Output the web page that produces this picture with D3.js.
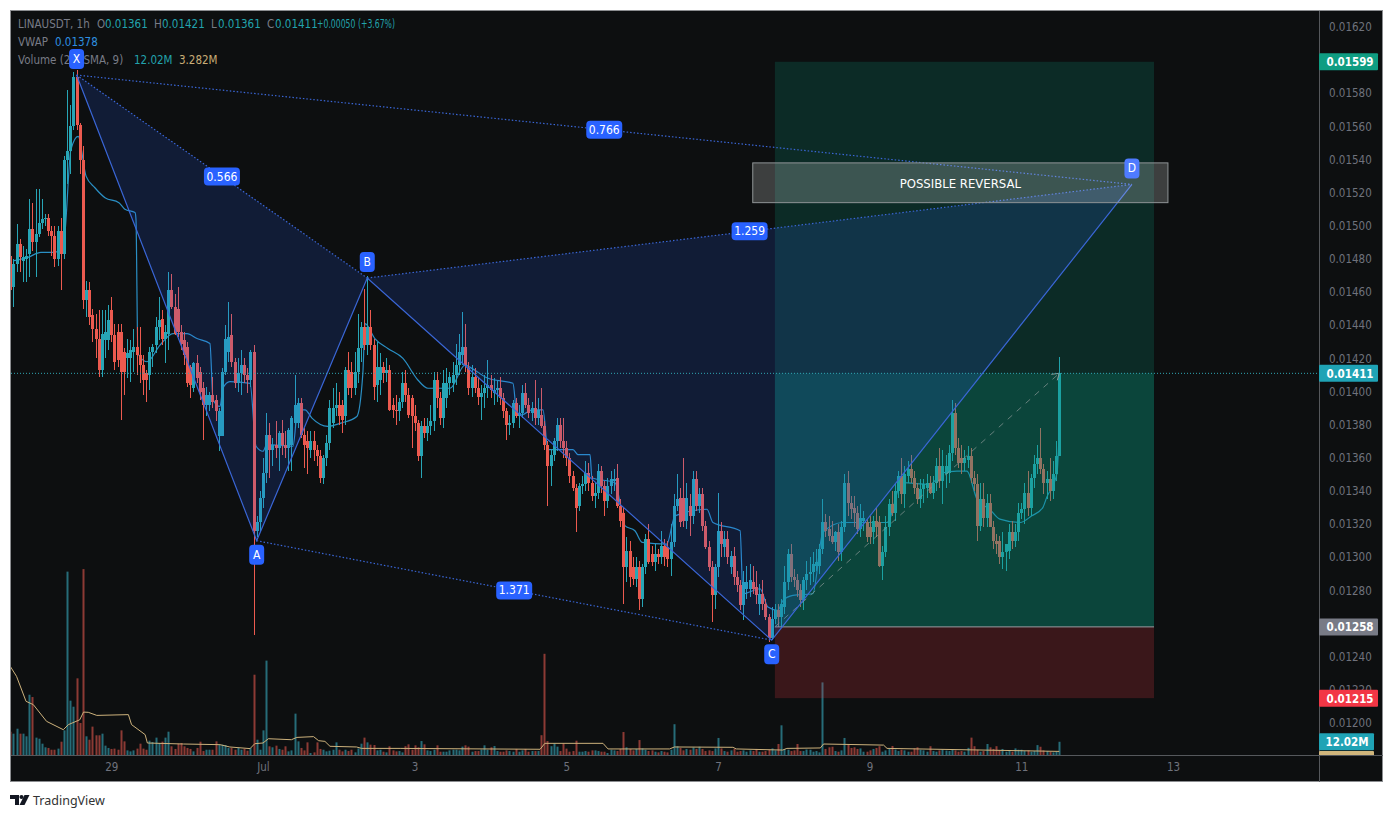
<!DOCTYPE html>
<html>
<head>
<meta charset="utf-8">
<script src="https://cdn.jsdelivr.net/npm/d3@7"></script>
<style>
  html, body { margin: 0; background: #fff; }
  svg { display: block; }
  text { font-family: "DejaVu Sans Condensed", "DejaVu Sans", sans-serif; font-stretch: condensed; }
  .brand { font-family: "Noto Sans", sans-serif; font-stretch: normal; }
</style>
</head>
<body>
<div id="chart"></div>
<script>
// prices are in 0.00001 USDT steps, one candle per hour, first one is 27 Jun 16:00
const opens = [
  1482,1463,1477,1489,1479,1480,1483,1498,1490,1495,
  1502,1504,1505,1497,1494,1480,1497,1483,1540,1545,
  1560,1590,1561,1540,1455,1461,1446,1438,1432,1413,
  1431,1431,1449,1434,1436,1436,1424,1420,1420,1424,
  1427,1422,1416,1411,1410,1424,1428,1439,1444,1432,
  1435,1461,1451,1450,1436,1431,1427,1415,1402,1417,
  1412,1402,1392,1392,1398,1395,1373,1373,1412,1424,
  1434,1418,1405,1411,1416,1410,1407,1424,1316,1321,
  1336,1351,1374,1365,1368,1366,1375,1368,1366,1368,
  1381,1381,1393,1374,1370,1365,1370,1365,1361,1348,
  1360,1369,1381,1390,1392,1392,1385,1413,1412,1402,
  1412,1426,1439,1428,1439,1428,1404,1407,1415,1411,
  1413,1392,1389,1388,1394,1405,1398,1396,1385,1381,
  1361,1379,1375,1379,1382,1407,1396,1384,1396,1405,
  1405,1410,1416,1422,1427,1414,1402,1409,1402,1397,
  1399,1402,1404,1399,1401,1402,1396,1388,1380,1381,
  1393,1385,1387,1399,1392,1387,1390,1384,1386,1379,
  1368,1355,1362,1370,1380,1370,1366,1360,1349,1342,
  1331,1343,1344,1351,1345,1337,1339,1352,1343,1334,
  1343,1346,1348,1331,1327,1294,1304,1294,1287,1294,
  1275,1294,1311,1302,1297,1302,1300,1307,1306,1299,
  1309,1331,1336,1336,1322,1331,1325,1347,1331,1338,
  1319,1306,1294,1277,1294,1316,1306,1311,1294,1301,
  1288,1283,1271,1281,1281,1285,1282,1272,1278,1272,
  1264,1251,1263,1268,1264,1270,1285,1302,1288,1286,
  1280,1274,1286,1290,1291,1295,1295,1305,1321,1317,
  1313,1309,1315,1303,1318,1345,1333,1330,1327,1317,
  1322,1321,1318,1315,1322,1321,1295,1303,1318,1332,
  1327,1340,1349,1338,1349,1353,1348,1342,1335,1341,
  1342,1345,1339,1345,1355,1346,1350,1351,1363,1387,
  1366,1360,1357,1359,1361,1348,1344,1319,1335,1324,
  1333,1318,1310,1310,1300,1303,1304,1315,1310,1315,
  1327,1329,1339,1330,1348,1356,1360,1353,1345,1347,1340,1350,1361
];
const highs = [
  1497,1480,1501,1492,1488,1486,1516,1514,1522,1522,
  1516,1507,1507,1500,1500,1500,1505,1542,1582,1573,
  1593,1594,1562,1548,1467,1466,1450,1447,1449,1449,
  1449,1452,1457,1441,1441,1441,1426,1432,1431,1438,
  1439,1439,1422,1413,1427,1429,1445,1457,1449,1440,
  1472,1471,1459,1463,1440,1436,1430,1416,1418,1422,
  1415,1406,1403,1400,1409,1398,1390,1414,1440,1454,
  1447,1420,1420,1425,1420,1414,1425,1428,1325,1340,
  1360,1387,1381,1372,1382,1376,1383,1376,1378,1385,
  1410,1396,1396,1378,1376,1376,1376,1368,1365,1362,
  1374,1395,1402,1405,1400,1395,1415,1424,1418,1424,
  1447,1442,1462,1470,1449,1432,1430,1423,1418,1420,
  1416,1396,1398,1396,1412,1413,1402,1398,1392,1383,
  1382,1384,1384,1392,1412,1412,1400,1413,1414,1412,
  1418,1429,1435,1448,1441,1418,1416,1414,1408,1404,
  1410,1419,1410,1408,1407,1409,1399,1390,1386,1395,
  1396,1392,1404,1405,1396,1394,1407,1396,1402,1382,
  1370,1365,1372,1384,1384,1384,1370,1363,1352,1344,
  1345,1349,1358,1357,1349,1345,1356,1355,1346,1348,
  1352,1353,1356,1335,1330,1312,1310,1300,1300,1298,
  1296,1314,1320,1307,1308,1305,1316,1311,1310,1320,
  1338,1350,1342,1360,1345,1338,1352,1352,1342,1342,
  1322,1310,1298,1296,1339,1321,1316,1316,1304,1306,
  1292,1286,1292,1295,1296,1295,1292,1284,1286,1275,
  1266,1270,1272,1272,1275,1295,1305,1308,1293,1290,
  1284,1288,1298,1300,1303,1305,1308,1335,1326,1325,
  1322,1316,1320,1322,1350,1352,1337,1337,1331,1332,
  1328,1323,1325,1325,1330,1325,1307,1325,1335,1340,
  1345,1352,1360,1355,1358,1362,1352,1345,1347,1347,
  1350,1349,1349,1360,1366,1365,1362,1368,1395,1393,
  1372,1368,1365,1367,1366,1352,1350,1345,1345,1338,
  1338,1322,1314,1313,1315,1308,1320,1322,1320,1333,
  1333,1345,1352,1350,1362,1368,1378,1356,1352,1360,1358,1370,1421
];
const lows = [
  1461,1451,1472,1472,1466,1466,1469,1485,1469,1493,
  1498,1500,1494,1482,1475,1476,1461,1480,1525,1531,
  1558,1558,1531,1450,1445,1440,1430,1420,1409,1409,
  1420,1425,1430,1413,1415,1383,1398,1408,1406,1412,
  1410,1405,1398,1394,1401,1415,1423,1431,1428,1417,
  1425,1450,1434,1433,1425,1416,1403,1396,1400,1405,
  1395,1371,1385,1388,1390,1382,1364,1373,1410,1418,
  1415,1402,1400,1398,1405,1399,1403,1253,1312,1315,
  1330,1345,1348,1355,1360,1352,1362,1360,1352,1352,
  1378,1378,1372,1354,1350,1360,1358,1355,1345,1344,
  1355,1365,1378,1385,1380,1375,1380,1398,1396,1398,
  1405,1418,1425,1422,1425,1395,1394,1398,1405,1406,
  1388,1384,1380,1382,1390,1394,1384,1366,1376,1358,
  1348,1372,1370,1374,1376,1390,1380,1378,1390,1398,
  1400,1404,1410,1416,1412,1398,1397,1399,1392,1383,
  1390,1396,1396,1392,1394,1392,1384,1371,1374,1378,
  1384,1378,1384,1390,1384,1382,1380,1380,1378,1365,
  1331,1343,1358,1364,1366,1360,1355,1345,1340,1315,
  1328,1338,1340,1340,1334,1330,1335,1339,1325,1330,
  1338,1340,1330,1318,1272,1285,1282,1283,1282,1268,
  1270,1290,1296,1295,1292,1296,1296,1295,1294,1289,
  1306,1328,1318,1318,1317,1313,1320,1328,1327,1316,
  1305,1292,1261,1269,1288,1300,1300,1296,1290,1283,
  1279,1268,1262,1275,1276,1278,1272,1265,1268,1262,
  1249,1250,1260,1258,1258,1266,1280,1285,1282,1276,
  1270,1268,1280,1283,1285,1292,1290,1302,1312,1310,
  1308,1304,1298,1298,1315,1325,1323,1318,1314,1312,
  1316,1309,1308,1308,1312,1294,1286,1300,1313,1325,
  1322,1336,1332,1330,1345,1345,1338,1332,1330,1333,
  1336,1338,1335,1340,1342,1332,1342,1345,1358,1362,
  1354,1350,1352,1354,1345,1340,1310,1316,1318,1318,
  1318,1305,1302,1296,1293,1292,1299,1305,1306,1310,
  1323,1320,1325,1325,1342,1350,1350,1338,1335,1334,1335,1346,1361
];
const closes = [
  1461,1477,1489,1481,1481,1482,1498,1490,1495,1502,
  1504,1505,1497,1494,1480,1497,1483,1540,1545,1560,
  1590,1561,1540,1455,1461,1445,1438,1432,1413,1435,
  1436,1443,1434,1418,1419,1412,1412,1423,1425,1427,
  1422,1416,1407,1407,1424,1427,1439,1443,1432,1436,
  1461,1451,1435,1436,1429,1422,1405,1404,1417,1408,
  1400,1392,1398,1398,1394,1388,1388,1412,1432,1433,
  1418,1405,1411,1416,1410,1407,1424,1316,1321,1336,
  1351,1374,1365,1368,1366,1375,1368,1366,1377,1384,
  1392,1393,1374,1368,1366,1370,1365,1361,1348,1360,
  1369,1390,1390,1392,1385,1383,1413,1402,1402,1412,
  1426,1439,1428,1439,1428,1403,1415,1415,1411,1413,
  1389,1389,1388,1394,1405,1398,1386,1385,1381,1361,
  1379,1375,1379,1382,1407,1396,1384,1405,1405,1409,
  1410,1416,1424,1427,1416,1402,1409,1402,1397,1399,
  1402,1404,1401,1401,1402,1396,1388,1380,1381,1393,
  1385,1387,1399,1392,1387,1390,1384,1389,1379,1368,
  1355,1362,1370,1380,1370,1366,1360,1349,1342,1330,
  1343,1344,1351,1345,1337,1339,1352,1343,1334,1343,
  1347,1347,1331,1322,1294,1304,1288,1287,1294,1275,
  1294,1311,1297,1297,1302,1300,1307,1300,1299,1309,
  1331,1335,1321,1322,1336,1325,1347,1331,1338,1319,
  1306,1294,1277,1294,1316,1308,1311,1300,1301,1288,
  1283,1271,1285,1285,1286,1281,1277,1278,1272,1264,
  1251,1263,1268,1264,1272,1285,1302,1288,1286,1280,
  1274,1286,1290,1291,1296,1297,1305,1321,1316,1313,
  1309,1315,1303,1318,1345,1333,1329,1327,1317,1324,
  1324,1312,1312,1322,1318,1295,1303,1318,1332,1327,
  1340,1349,1338,1350,1353,1348,1342,1335,1341,1344,
  1345,1339,1345,1355,1346,1355,1355,1363,1387,1366,
  1357,1357,1360,1361,1348,1344,1319,1335,1324,1333,
  1318,1310,1308,1300,1303,1308,1315,1310,1315,1327,
  1329,1339,1330,1348,1356,1360,1353,1345,1347,1340,1350,1361,1411
];
// volume in millions
const volumes = [
  21.2,19.4,23.9,19.4,19.4,17,54.8,52.7,15.8,14.8,
  10.3,7,6.4,4.8,4.8,5.8,12.1,22.4,166.7,49.4,
  43.9,69.7,29.1,169,17,13.9,25.8,17.9,17.9,19.4,
  8.5,6.4,5.5,5.8,4.8,22.4,12.4,4.2,3.3,4.2,
  5.8,10.3,5.8,4.8,13,11.8,15.8,10.9,12.1,15.8,
  21.2,7.9,5.5,10.3,10.9,7.9,6.4,5.5,3.3,6.4,
  12.1,3.6,4.8,4.8,4.8,12.4,9.1,9.4,9.1,6.4,
  6.4,4.8,6.4,4.8,5.5,3.9,6.4,73,13.9,4.8,
  22.4,85.8,7.9,7,8.5,5.5,4.8,7.9,3.3,4.2,
  37.6,12.4,6.4,4.2,11.5,1.8,2.4,11.5,5.5,4.8,
  3.3,3.9,4.8,11.5,4.8,3.3,4.8,3.6,4.8,2.4,
  6,10.3,15.8,11.5,9.4,9.1,4.2,4.8,3,2.4,
  7.9,4.2,3.3,3.6,2.4,8,9.7,4.8,8.8,7,
  12.7,9.7,4.2,3.6,4.8,8.8,3,3,3,4.2,
  4.8,4.8,4.2,7.6,8.8,7.6,3,3.6,3.6,5,
  8.8,4.8,7,8.2,3.6,3,3,4.2,3.6,3,
  5.5,3,4.2,5.5,3,3.6,3.6,3.6,18,92,
  12.7,8,10.6,7.6,3.6,10.6,5.8,3,3.6,13,
  3,3,3.6,3,4.2,4.2,3.6,3,3,1.8,
  4.8,4.2,3.6,5.5,20.9,7,5.5,4.2,5.5,13.6,
  6,4.8,3.6,4.2,3,2.4,3.6,3,2.4,4.8,
  28,8,6.4,4.2,5.5,4.8,6.9,5.5,7.5,5.5,
  3.6,4.2,3.6,6,15.5,6,3.6,3,4.2,5.5,
  3,3.6,4.2,3,4.2,3.6,5.5,3,3,3.6,
  4.8,6,4.2,10,27,5.5,4.8,3.6,4.2,10,
  3.6,3.6,5,4.8,3,3.6,2.4,66,5.5,7,
  7.5,3.6,3,4.2,15.5,10,6.4,7,5.5,6,
  3,3,4.2,5.5,6.4,8,3,4.2,5.5,8.2,
  5,3.6,4.8,4.2,3,3,6,7,4.8,4.2,
  3,8,3.6,3,4.2,5,4,3.6,4.8,4.2,
  3,3.6,3,6.5,15.8,8,4.8,3,3.6,10,
  7,5.5,8,4.2,5.5,3,3.6,3,6,4.8,
  4.8,3.6,4.2,3,3.6,9,7.5,4.2,3.6,3,2.4,3,12.02
];

const vwapHours = [1.2,5.6,9.7,14.2,17,19.2,21.5,24,26.8,30,34.4,36.3,39.5,39.8,40.4,43.3,47.4,51.5,56,59.1,63.2,64.2,66.4,67.3,69.5,75.9,77.8,80,81.2,89.5,91,93.3,95.5,100.5,104.7,109.7,111.6,112.3,115.4,119.5,124.3,129,132.2,139.2,143.9,146.1,151.2,159.1,160.4,162,165.1,168.6,170.2,178.1,179.7,183.5,184.1,191.4,194.6,197.7,200,207.8,210.4,220.5,222.4,231,231.9,237.3,239.8,242.9,244.6,247.7,254,257.2,263.5,269.9,277.5,282.2,291,295.2,299.6,302.8,306,310,313.2,319.6,323.3,326.8,328,331.3,332];
const vwapPrices = [1479,1481,1484,1484,1491,1546,1554,1530,1523,1517,1514,1510,1508,1504,1423,1418,1428,1435,1435,1432,1429,1395,1391,1402,1406,1405,1367,1364,1368,1367,1389,1389,1384,1379,1381,1385,1411,1441,1432,1426,1420,1407,1402,1402,1416,1414,1408,1405,1386,1386,1389,1389,1365,1365,1362,1362,1348,1345,1319,1316,1309,1308,1325,1329,1321,1316,1278,1281,1270,1268,1274,1277,1278,1315,1321,1321,1321,1345,1344,1351,1352,1352,1335,1329,1323,1321,1325,1330,1336,1351,1378];

// 9 period SMA of the volume, same idea
const smaHours = [0,2,5,7.3,11.5,16.8,18.4,22,23.2,24.7,27.4,37.4,38.4,42.7,43.4,54.8,66.4,69.5,75.9,77.4,80,81.7,89,90.7,96,97.6,99.6,101.2,109.6,111.2,123.4,167.7,169.2,187.6,189.2,208.7,210.2,228.7,229.8,244.5,245.8,256.4,257.4,276.4,277.5,332];
const smaValues = [80.6,71.5,48.8,45.8,30.6,23,27.6,32,39,38.8,36,36.7,27.6,18.5,10.9,10,9.4,7.3,5.8,10.3,10.9,14.8,13.9,16,16.7,13,12.4,7.9,7.3,6,6,5.2,10.6,10.6,5.5,5.5,7.3,7,5.5,4.5,6,6.4,10,9,6,3.28];

// XABCD pattern
const patternNames = ['X', 'A', 'B', 'C', 'D'];
const patternHours = [21, 78, 113, 241, 355];
const patternPrices = [1591, 1310, 1468.5, 1250, 1525];
const ratioLinks = [['X', 'B'], ['A', 'C'], ['B', 'D'], ['X', 'D']];
const ratioLabels = ['0.566', '1.371', '1.259', '0.766'];

// long position tool
const positionHours = [242, 362];
const targetPrice = 1599, entryPrice = 1258, stopPrice = 1215, lastPrice = 1411;
const reversalHours = [235, 366.4];
const reversalPrices = [1538, 1514];

const priceTicks = [1200,1220,1240,1280,1300,1320,1340,1360,1380,1400,1420,1440,1460,1480,1500,1520,1540,1560,1580,1620];
const dateTicks = [new Date(Date.UTC(2022,5,29)), new Date(Date.UTC(2022,6,1)), new Date(Date.UTC(2022,6,3)), new Date(Date.UTC(2022,6,5)), new Date(Date.UTC(2022,6,7)), new Date(Date.UTC(2022,6,9)), new Date(Date.UTC(2022,6,11)), new Date(Date.UTC(2022,6,13))];
const dateLabels = ['29', 'Jul', '3', '5', '7', '9', '11', '13'];

const upColor = '#27a5b6', downColor = '#ec5a4f';
const upVolume = '#266c78', downVolume = '#8c3a34';
const bg = '#0d0f10', axisText = '#6f727c', blue = '#2962ff', patternLine = '#3a66d6';

const width = 1393, height = 818;
const paneLeft = 11, paneRight = 1319, paneTop = 11, paneBottom = 755, frameRight = 1383, frameBottom = 782;

const startTime = Date.UTC(2022, 5, 27, 16);
const hourDate = h => new Date(startTime + h * 3600000);

const x = d3.scaleUtc()
    .domain([dateTicks[1], dateTicks[7]])
    .range([263, 1173]);
const xh = h => x(hourDate(h));
const y = d3.scaleLinear()
    .domain([1200, 1620])
    .range([723, 27]);
const yVol = d3.scaleLinear()
    .domain([0, 170])
    .range([paneBottom, paneBottom - 187]);

const svg = d3.select('#chart')
    .append('svg')
    .attr('width', width)
    .attr('height', height);

svg.append('defs').append('clipPath')
    .attr('id', 'pane')
    .append('rect')
    .attr('x', paneLeft)
    .attr('y', paneTop)
    .attr('width', paneRight - paneLeft)
    .attr('height', paneBottom - paneTop);
svg.select('defs').append('clipPath')
    .attr('id', 'scale')
    .append('rect')
    .attr('x', paneRight)
    .attr('y', paneTop)
    .attr('width', frameRight - paneRight)
    .attr('height', paneBottom - paneTop);

// frame
svg.append('rect')
    .attr('x', 10.5)
    .attr('y', 10.5)
    .attr('width', frameRight - 11)
    .attr('height', frameBottom - 11)
    .attr('fill', bg)
    .attr('stroke', '#8b8d90');

// legend, top left. Parts are placed one by one, the X label covers a bit of it
const grey = '#787b86', teal = '#22a3ad';
const legend = svg.append('g').attr('font-size', 11.5);
const legendPart = (tx, ty, str, color) => legend.append('text')
    .attr('x', tx)
    .attr('y', ty)
    .attr('fill', color)
    .text(str);
legendPart(18, 28, 'LINAUSDT, 1h', grey);
legendPart(97, 28, 'O', grey);
legendPart(105, 28, '0.01361', teal);
legendPart(154, 28, 'H', grey);
legendPart(162, 28, '0.01421', teal);
legendPart(211, 28, 'L', grey);
legendPart(218, 28, '0.01361', teal);
legendPart(267, 28, 'C', grey);
legendPart(275, 28, '0.01411', teal);
legendPart(317, 28, '+0.00050 (+3.67%)', teal)
    .attr('textLength', 78)
    .attr('lengthAdjust', 'spacingAndGlyphs');
legendPart(18, 46, 'VWAP', grey);
legendPart(55, 46, '0.01378', '#2d8fe0');
legendPart(18, 63.5, 'Volume (20, SMA, 9)', grey);
legendPart(134, 63.5, '12.02M', teal);
legendPart(179, 63.5, '3.282M', '#c9ad76');

const pane = svg.append('g').attr('clip-path', 'url(#pane)');
const hours = d3.range(closes.length);

// volume
pane.append('g')
    .selectAll('rect')
    .data(hours)
    .enter()
    .append('rect')
    .attr('x', i => Math.round(xh(i)) - 0.5)
    .attr('width', 2)
    .attr('y', i => yVol(volumes[i]))
    .attr('height', i => yVol(0) - yVol(volumes[i]))
    .attr('fill', i => closes[i] >= opens[i] ? upVolume : downVolume);

pane.append('path')
    .attr('d', d3.line().x(d => xh(d[0])).y(d => yVol(d[1]))(d3.zip(smaHours, smaValues)))
    .attr('fill', 'none')
    .attr('stroke', '#cdb27c')
    .attr('stroke-width', 1);

// vwap
pane.append('path')
    .attr('d', d3.line().x(d => xh(d[0])).y(d => y(d[1])).curve(d3.curveMonotoneX)(d3.zip(vwapHours, vwapPrices)))
    .attr('fill', 'none')
    .attr('stroke', '#2a8fc4')
    .attr('stroke-width', 1.2);

// candles, wick and body on whole pixels so they stay crisp
const candle = pane.append('g')
    .selectAll('g')
    .data(hours)
    .enter()
    .append('g')
    .attr('fill', i => closes[i] >= opens[i] ? upColor : downColor)
    .attr('shape-rendering', 'crispEdges');
candle.append('rect')
    .attr('x', i => Math.round(xh(i)))
    .attr('width', 1)
    .attr('y', i => y(highs[i]))
    .attr('height', i => y(lows[i]) - y(highs[i]));
candle.append('rect')
    .attr('x', i => Math.round(xh(i)) - 1)
    .attr('width', 3)
    .attr('y', i => y(Math.max(opens[i], closes[i])))
    .attr('height', i => Math.max(1, Math.abs(y(opens[i]) - y(closes[i]))));

// last price line
svg.append('line')
    .attr('x1', paneLeft)
    .attr('x2', paneRight)
    .attr('y1', y(lastPrice))
    .attr('y2', y(lastPrice))
    .attr('stroke', '#2fa6b4')
    .attr('stroke-dasharray', '1 2');

// position tool
const posX = xh(positionHours[0]), posW = xh(positionHours[1]) - posX;
const posRect = (top, bottom, color, alpha) => pane.append('rect')
    .attr('x', posX)
    .attr('width', posW)
    .attr('y', y(top))
    .attr('height', y(bottom) - y(top))
    .attr('fill', color)
    .attr('fill-opacity', alpha);
posRect(targetPrice, entryPrice, '#089981', 0.2);
posRect(lastPrice, entryPrice, '#089981', 0.24);
posRect(entryPrice, stopPrice, '#f23645', 0.2);
pane.append('line')
    .attr('x1', posX)
    .attr('x2', posX + posW)
    .attr('y1', y(entryPrice))
    .attr('y2', y(entryPrice))
    .attr('stroke', '#9a9ea3');
pane.append('line')
    .attr('x1', posX)
    .attr('x2', xh(332))
    .attr('y1', y(entryPrice))
    .attr('y2', y(lastPrice))
    .attr('stroke', '#8d9a98')
    .attr('stroke-opacity', 0.7)
    .attr('stroke-dasharray', '6 6');
pane.append('path')
    .attr('d', `M${xh(332) - 8},${y(lastPrice) + 1}L${xh(332)},${y(lastPrice)}L${xh(332) - 2},${y(lastPrice) + 7}`)
    .attr('fill', 'none')
    .attr('stroke', '#8d9a98');

// XABCD pattern
const pts = {};
patternNames.forEach((n, i) => { pts[n] = [xh(patternHours[i]), y(patternPrices[i])]; });

const tri = [['X', 'A', 'B'], ['B', 'C', 'D']];
pane.selectAll('.tri')
    .data(tri)
    .enter()
    .append('path')
    .attr('class', 'tri')
    .attr('d', d => 'M' + d.map(n => pts[n].join(',')).join('L') + 'Z')
    .attr('fill', blue)
    .attr('fill-opacity', 0.16);

pane.append('path')
    .attr('d', d3.line()(patternNames.map(n => pts[n])))
    .attr('fill', 'none')
    .attr('stroke', patternLine)
    .attr('stroke-width', 1.2);

pane.selectAll('.link')
    .data(ratioLinks)
    .enter()
    .append('line')
    .attr('class', 'link')
    .attr('x1', d => pts[d[0]][0])
    .attr('y1', d => pts[d[0]][1])
    .attr('x2', d => pts[d[1]][0])
    .attr('y2', d => pts[d[1]][1])
    .attr('stroke', patternLine)
    .attr('stroke-width', 1.2)
    .attr('stroke-dasharray', '1.5 2');

// possible reversal box
const revX = xh(reversalHours[0]), revW = xh(reversalHours[1]) - revX;
pane.append('rect')
    .attr('x', revX)
    .attr('y', y(reversalPrices[0]))
    .attr('width', revW)
    .attr('height', y(reversalPrices[1]) - y(reversalPrices[0]))
    .attr('fill', '#ffffff')
    .attr('fill-opacity', 0.2)
    .attr('stroke', '#8f9496')
    .attr('stroke-width', 1);
pane.append('text')
    .attr('x', revX + revW / 2)
    .attr('y', (y(reversalPrices[0]) + y(reversalPrices[1])) / 2 + 5)
    .attr('text-anchor', 'middle')
    .attr('fill', '#fff')
    .attr('font-size', 13)
    .text('POSSIBLE REVERSAL');

// ratio labels
const ratio = pane.selectAll('.ratio')
    .data(ratioLinks)
    .enter()
    .append('g')
    .attr('class', 'ratio')
    .attr('transform', d => `translate(${(pts[d[0]][0] + pts[d[1]][0]) / 2},${(pts[d[0]][1] + pts[d[1]][1]) / 2})`);
ratio.append('rect')
    .attr('x', -18)
    .attr('y', -9)
    .attr('width', 36)
    .attr('height', 18)
    .attr('rx', 4)
    .attr('fill', blue);
ratio.append('text')
    .attr('text-anchor', 'middle')
    .attr('y', 4)
    .attr('fill', '#fff')
    .attr('font-size', 12)
    .text((d, i) => ratioLabels[i]);

// point labels, above or below the point
const pointLabel = pane.selectAll('.point')
    .data(patternNames)
    .enter()
    .append('g')
    .attr('class', 'point')
    .attr('transform', n => `translate(${pts[n][0]},${pts[n][1] + (n === 'A' || n === 'C' ? 14 : -16)})`);
pointLabel.append('rect')
    .attr('x', -7.5)
    .attr('y', -10)
    .attr('width', 15)
    .attr('height', 20)
    .attr('rx', 4)
    .attr('fill', n => n === 'D' ? '#4f7bff' : blue);
pointLabel.append('text')
    .attr('text-anchor', 'middle')
    .attr('y', 4)
    .attr('fill', '#fff')
    .attr('font-size', 12)
    .text(n => n);

// axes
const priceAxis = d3.axisRight(y)
    .tickValues(priceTicks)
    .tickSize(0)
    .tickPadding(10)
    .tickFormat(d => (d / 100000).toFixed(5));
const priceG = svg.append('g')
    .attr('transform', `translate(${paneRight},0)`)
    .call(priceAxis);
priceG.select('.domain').remove();
priceG.selectAll('text')
    .attr('fill', axisText)
    .attr('font-size', 11.5);

const timeAxis = d3.axisBottom(x)
    .tickValues(dateTicks)
    .tickSize(0)
    .tickPadding(8)
    .tickFormat((d, i) => dateLabels[i]);
const timeG = svg.append('g')
    .attr('transform', `translate(0,${paneBottom})`)
    .call(timeAxis);
timeG.select('.domain').remove();
timeG.selectAll('text')
    .attr('fill', axisText)
    .attr('font-size', 11.5);

svg.append('line')
    .attr('x1', paneLeft)
    .attr('x2', frameRight)
    .attr('y1', paneBottom + 0.5)
    .attr('y2', paneBottom + 0.5)
    .attr('stroke', '#55585c');
svg.append('line')
    .attr('x1', paneRight + 0.5)
    .attr('x2', paneRight + 0.5)
    .attr('y1', paneTop)
    .attr('y2', frameBottom)
    .attr('stroke', '#55585c');

// value tags on the scale
const tags = [
  { price: targetPrice, color: '#0f9d82' },
  { price: lastPrice, color: '#1fa3b5' },
  { price: entryPrice, color: '#787b86' },
  { price: stopPrice, color: '#f23645' }
];
const tagG = svg.append('g').attr('clip-path', 'url(#scale)');
const tag = tagG.selectAll('.price')
    .data(tags)
    .enter()
    .append('g')
    .attr('class', 'price')
    .attr('transform', d => `translate(${paneRight},${y(d.price)})`);
tag.append('rect')
    .attr('y', -8.5)
    .attr('width', 59)
    .attr('height', 17)
    .attr('rx', 1)
    .attr('fill', d => d.color);
tag.append('text')
    .attr('x', 31)
    .attr('y', 4.5)
    .attr('text-anchor', 'middle')
    .attr('fill', '#fff')
    .attr('font-size', 11.5)
    .attr('font-weight', 700)
    .text(d => (d.price / 100000).toFixed(5));

// the SMA tag comes first and gets pushed down under the volume tag, only its top edge shows
const volTags = [
  { value: smaValues[smaValues.length - 1], color: '#d0b67c', label: '3.282M', ink: '#131722', push: 8 },
  { value: volumes[volumes.length - 1], color: '#1fa3b5', label: '12.02M', ink: '#fff', push: 0 }
];
const volTag = tagG.selectAll('.vol')
    .data(volTags)
    .enter()
    .append('g')
    .attr('class', 'vol')
    .attr('transform', d => `translate(${paneRight},${yVol(d.value) + d.push})`);
volTag.append('rect')
    .attr('y', -8.5)
    .attr('width', 55)
    .attr('height', 17)
    .attr('rx', 1)
    .attr('fill', d => d.color);
volTag.append('text')
    .attr('x', 28)
    .attr('y', 4.5)
    .attr('text-anchor', 'middle')
    .attr('fill', d => d.ink)
    .attr('font-size', 11.5)
    .attr('font-weight', 700)
    .text(d => d.label);

// logo
const logo = svg.append('g').attr('fill', '#131722');
logo.append('path').attr('d', 'M10,795H19V805H15V799H10Z');
logo.append('circle').attr('cx', 21.5).attr('cy', 797).attr('r', 2.1);
logo.append('path').attr('d', 'M24.5,795H29.5L24.5,805H19.5Z');
svg.append('text')
    .attr('class', 'brand')
    .attr('x', 33)
    .attr('y', 805)
    .attr('fill', '#333')
    .attr('font-size', 12.5)
    .text('TradingView');
</script>
</body>
</html>
